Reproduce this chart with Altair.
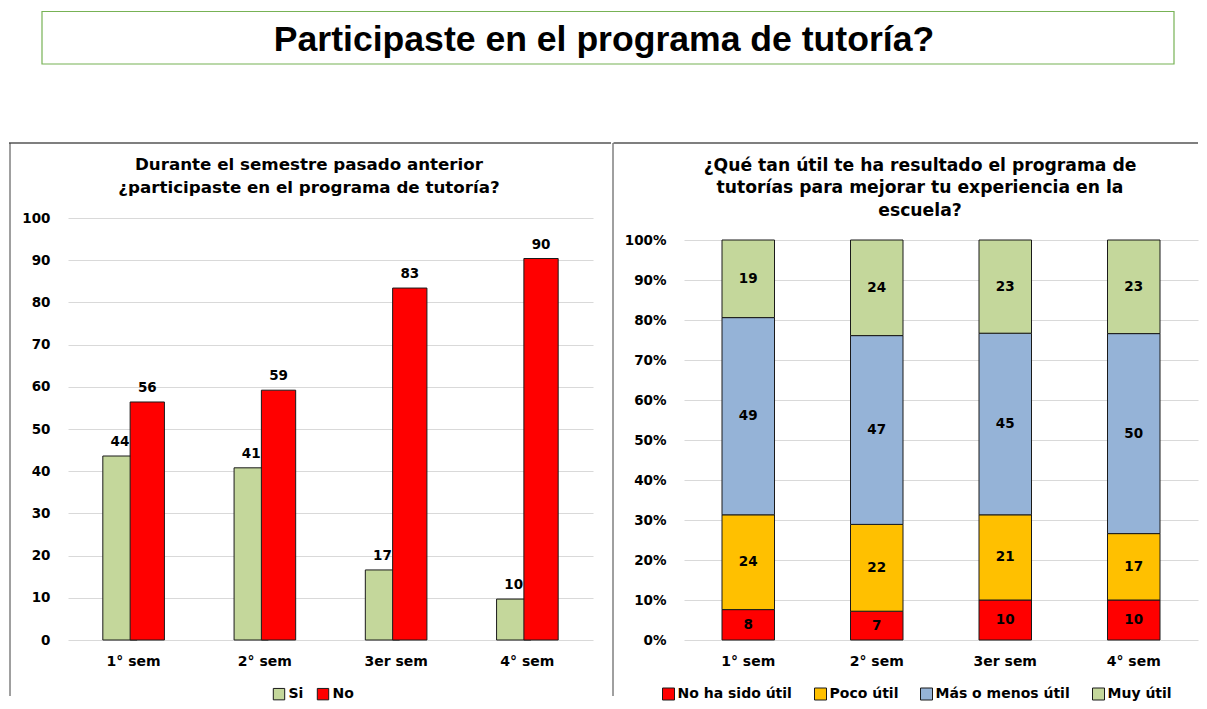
import altair as alt
import pandas as pd

# ---------------- data ----------------
sems = ["1° sem", "2° sem", "3er sem", "4° sem"]

left_series = ["Si", "No"]
left_colors = ["#C4D79B", "#FF0000"]
si_vals = [43.6, 40.8, 16.6, 9.7]
no_vals = [56.4, 59.2, 83.4, 90.4]

util_cats = ["No ha sido útil", "Poco útil", "Más o menos útil", "Muy útil"]
util_colors = ["#FF0000", "#FFC000", "#95B3D7", "#C4D79B"]
no_util = [7.6, 7.2, 10.0, 10.0]
poco_util = [23.7, 21.7, 21.3, 16.6]
mas_menos = [49.3, 47.2, 45.4, 50.0]
muy_util = [19.4, 23.9, 23.3, 23.4]

left_ticks = [0, 10, 20, 30, 40, 50, 60, 70, 80, 90, 100]
right_ticks = [0, 0.1, 0.2, 0.3, 0.4, 0.5, 0.6, 0.7, 0.8, 0.9, 1.0]

main_title = "Participaste en el programa de tutoría?"
left_title = ["Durante el semestre pasado anterior",
              "¿participaste en el programa de tutoría?"]
right_title = ["¿Qué tan útil te ha resultado el programa de",
               "tutorías para mejorar tu experiencia en la",
               "escuela?"]

FONT = "DejaVu Sans"
EDGE = "#1a1a1a"
GRID = "#D9D9D9"
BORDER_TOP = "#7F7F7F"
BORDER_SIDE = "#404040"
PLOT_H = 422
LEG_Y = 469

# ---------------- title box ----------------
title_df = pd.DataFrame({"t": [main_title]})
title_box = alt.Chart(title_df).mark_rect(
    fillOpacity=0, stroke="#77B255", strokeWidth=1.2
).encode(x=alt.value(-26), x2=alt.value(1106), y=alt.value(3.5), y2=alt.value(56))
title_text = alt.Chart(title_df).mark_text(
    font="Liberation Sans", fontSize=35.6, fontWeight="bold",
    baseline="alphabetic", align="center", color="black"
).encode(x=alt.value(536), y=alt.value(42.7), text="t:N")
title_chart = alt.layer(title_box, title_text).properties(width=1100, height=57)

# ---------------- left panel ----------------
left_df = pd.DataFrame({
    "sem": sems * 2,
    "serie": ["Si"] * 4 + ["No"] * 4,
    "valor": si_vals + no_vals,
})

xl = alt.X("sem:N", sort=sems, scale=alt.Scale(paddingInner=0, paddingOuter=0),
           axis=alt.Axis(title=None, labelAngle=0, domain=False, ticks=False,
                         labelPadding=14, labelFont=FONT, labelFontSize=14,
                         labelFontWeight="bold", labelColor="black"))
yl = alt.Y("valor:Q", scale=alt.Scale(domain=[0, 100], nice=False),
           axis=alt.Axis(title=None, values=left_ticks, domain=False, ticks=False,
                         grid=True, gridColor=GRID, gridWidth=1, labelPadding=18,
                         labelFont=FONT, labelFontSize=13.5, labelFontWeight="bold",
                         labelColor="black"))
color_l = alt.Color("serie:N", scale=alt.Scale(domain=left_series, range=left_colors),
                    legend=alt.Legend(title=None, orient="none", legendX=204, legendY=LEG_Y,
                                      direction="horizontal", symbolType="square",
                                      symbolSize=130, symbolStrokeColor=EDGE,
                                      symbolStrokeWidth=1, labelFont=FONT,
                                      labelFontSize=14, labelFontWeight="bold",
                                      labelColor="black", labelOffset=2.5,
                                      columnPadding=11, padding=0))

base_l = alt.Chart(left_df)
si_bar = base_l.transform_filter(alt.datum.serie == "Si").mark_bar(
    width=34.3, xOffset=-13.65, stroke=EDGE, strokeWidth=1
).encode(x=xl, y=yl, color=color_l)
no_bar = base_l.transform_filter(alt.datum.serie == "No").mark_bar(
    width=34.3, xOffset=13.65, stroke=EDGE, strokeWidth=1
).encode(x=xl, y=yl, color=color_l)
si_txt = base_l.transform_filter(alt.datum.serie == "Si").mark_text(
    xOffset=-13.65, dy=-10, baseline="alphabetic", font=FONT, fontSize=13.5,
    fontWeight="bold", color="black"
).encode(x=xl, y=yl, text=alt.Text("valor:Q", format=".0f"))
no_txt = base_l.transform_filter(alt.datum.serie == "No").mark_text(
    xOffset=13.65, dy=-10, baseline="alphabetic", font=FONT, fontSize=13.5,
    fontWeight="bold", color="black"
).encode(x=xl, y=yl, text=alt.Text("valor:Q", format=".0f"))

deco_l = alt.Chart(pd.DataFrame({"k": [0]}))
l_top = deco_l.mark_rule(color=BORDER_TOP, strokeWidth=2).encode(
    x=alt.value(-59), x2=alt.value(543), y=alt.value(-75))
l_side = deco_l.mark_rule(color=BORDER_SIDE, strokeWidth=1).encode(
    x=alt.value(-58), y=alt.value(-75), y2=alt.value(478))
l_title = deco_l.mark_text(font=FONT, fontSize=16.7, fontWeight="bold", lineHeight=22.5,
                           baseline="middle", align="center", color="black").encode(
    x=alt.value(241), y=alt.value(-53), text=alt.value(left_title))

left_chart = alt.layer(l_top, l_side, l_title, si_bar, no_bar, si_txt, no_txt).properties(
    width=525, height=PLOT_H)

# ---------------- right panel ----------------
rows = []
series_vals = [no_util, poco_util, mas_menos, muy_util]
for ci, cat in enumerate(util_cats):
    for si, sem in enumerate(sems):
        rows.append({"sem": sem, "cat": cat, "idx": ci, "valor": series_vals[ci][si]})
right_df = pd.DataFrame(rows)

xr = alt.X("sem:N", sort=sems, scale=alt.Scale(paddingInner=0, paddingOuter=0),
           axis=alt.Axis(title=None, labelAngle=0, domain=False, ticks=False,
                         labelPadding=14, labelFont=FONT, labelFontSize=14,
                         labelFontWeight="bold", labelColor="black"))
yr_axis = alt.Axis(title=None, values=right_ticks, format=".0%", domain=False, ticks=False,
                   grid=True, gridColor=GRID, gridWidth=1, labelPadding=18,
                   labelFont=FONT, labelFontSize=13.5, labelFontWeight="bold",
                   labelColor="black")
yr_scale = alt.Scale(domain=[0, 1], nice=False, range=[PLOT_H, 22])
color_r = alt.Color("cat:N", scale=alt.Scale(domain=util_cats, range=util_colors),
                    legend=alt.Legend(title=None, orient="none", legendX=-22.5, legendY=LEG_Y,
                                      direction="horizontal", symbolType="square",
                                      symbolSize=144, symbolStrokeColor=EDGE,
                                      symbolStrokeWidth=1, labelFont=FONT,
                                      labelFontSize=14, labelFontWeight="bold",
                                      labelColor="black", labelOffset=2,
                                      columnPadding=20, padding=0))

base_r = alt.Chart(right_df).transform_stack(
    stack="valor", groupby=["sem"], sort=[alt.SortField("idx", order="ascending")],
    as_=["v0", "v1"], offset="normalize"
).transform_calculate(mid="(datum.v0 + datum.v1) / 2")

bars_r = base_r.mark_bar(width=52.5, stroke=EDGE, strokeWidth=1).encode(
    x=xr, y=alt.Y("v0:Q", scale=yr_scale, axis=yr_axis), y2="v1:Q", color=color_r)
text_r = base_r.mark_text(baseline="middle", font=FONT, fontSize=13.5, fontWeight="bold",
                          color="black").encode(
    x=xr, y=alt.Y("mid:Q", scale=yr_scale, axis=yr_axis),
    text=alt.Text("valor:Q", format=".0f"))

deco_r = alt.Chart(pd.DataFrame({"k": [0]}))
r_top = deco_r.mark_rule(color=BORDER_TOP, strokeWidth=2).encode(
    x=alt.value(-70.5), x2=alt.value(514), y=alt.value(-75))
r_side = deco_r.mark_rule(color=BORDER_SIDE, strokeWidth=1).encode(
    x=alt.value(-71), y=alt.value(-75), y2=alt.value(478))
r_title = deco_r.mark_text(font=FONT, fontSize=17.2, fontWeight="bold", lineHeight=22.5,
                           baseline="middle", align="center", color="black").encode(
    x=alt.value(236), y=alt.value(-52.5), text=alt.value(right_title))

right_chart = alt.layer(r_top, r_side, r_title, bars_r, text_r).properties(
    width=514, height=PLOT_H)

# ---------------- compose ----------------
panels = alt.hconcat(left_chart, right_chart, spacing=0).resolve_scale(
    color="independent", x="independent", y="independent")

chart = alt.vconcat(title_chart, panels, spacing=77).properties(
    padding=0).configure_view(strokeWidth=0)

chart.save("out.html", embed_options={"renderer": "svg", "actions": False})
